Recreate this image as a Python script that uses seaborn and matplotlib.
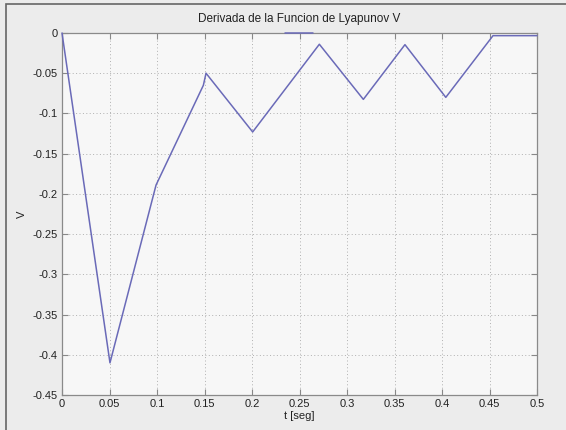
import matplotlib
matplotlib.use("Agg")
import matplotlib.pyplot as plt
import seaborn as sns
import pandas as pd
from matplotlib.patches import Rectangle

# data
t_main = [0.0, 0.0505, 0.099, 0.1488, 0.1516, 0.2007, 0.2709, 0.3172, 0.361, 0.404, 0.4537, 0.5]
v_main = [0.0, -0.410, -0.189, -0.065, -0.050, -0.123, -0.014, -0.0825, -0.0145, -0.080, -0.0033, -0.0033]
t_top = [0.235, 0.264]
v_top = [0.0, 0.0]

xticks = [0, 0.05, 0.1, 0.15, 0.2, 0.25, 0.3, 0.35, 0.4, 0.45, 0.5]
xticklabels = ["0", "0.05", "0.1", "0.15", "0.2", "0.25", "0.3", "0.35", "0.4", "0.45", "0.5"]
yticks = [0, -0.05, -0.1, -0.15, -0.2, -0.25, -0.3, -0.35, -0.4, -0.45]
yticklabels = ["0", "-0.05", "-0.1", "-0.15", "-0.2", "-0.25", "-0.3", "-0.35", "-0.4", "-0.45"]

df = pd.DataFrame({
    "t": t_main + t_top,
    "v": v_main + v_top,
    "seg": ["main"] * len(t_main) + ["top"] * len(t_top),
})

sns.set_style("white")
plt.rcParams["font.family"] = ["Liberation Sans", "DejaVu Sans"]

fig = plt.figure(figsize=(5.66, 4.30), dpi=100, facecolor="#ececec")
ax = fig.add_axes([62/566, 1-395/430, 475/566, 362/430])
ax.set_facecolor("#f7f7f7")

sns.lineplot(data=df, x="t", y="v", units="seg", estimator=None, sort=False,
             color="#6a6ab8", linewidth=1.1, ax=ax)
for ln in ax.get_lines():
    ln.set_zorder(5)
    ln.set_clip_on(False)

ax.set_xlim(0, 0.5)
ax.set_ylim(-0.45, 0)
ax.set_xticks(xticks)
ax.set_xticklabels(xticklabels)
ax.set_yticks(yticks)
ax.set_yticklabels(yticklabels)
ax.tick_params(direction="in", length=4, width=0.8, colors="#888888",
               labelcolor="#222222", labelsize=8, top=True, right=True,
               bottom=True, left=True, pad=3)
ax.grid(True, linestyle=(0, (1, 2.5)), color="#b0b0b0", linewidth=0.7)
for s in ax.spines.values():
    s.set_color("#8a8a8a")
    s.set_linewidth(0.9)
    s.set_visible(True)

ax.set_title("Derivada de la Funcion de Lyapunov V", fontsize=8.5, color="#222222", pad=8)
ax.set_xlabel("t [seg]", fontsize=8, color="#222222", labelpad=1)
ax.set_ylabel("V", fontsize=8, color="#222222", labelpad=4)

fig.patches.append(Rectangle((6/566, -0.1), 1.2, 1 - (-0.1) - 4/430, transform=fig.transFigure,
                             fill=False, edgecolor="#666666", linewidth=1.2))

fig.savefig("out.png", dpi=100, facecolor=fig.get_facecolor())
